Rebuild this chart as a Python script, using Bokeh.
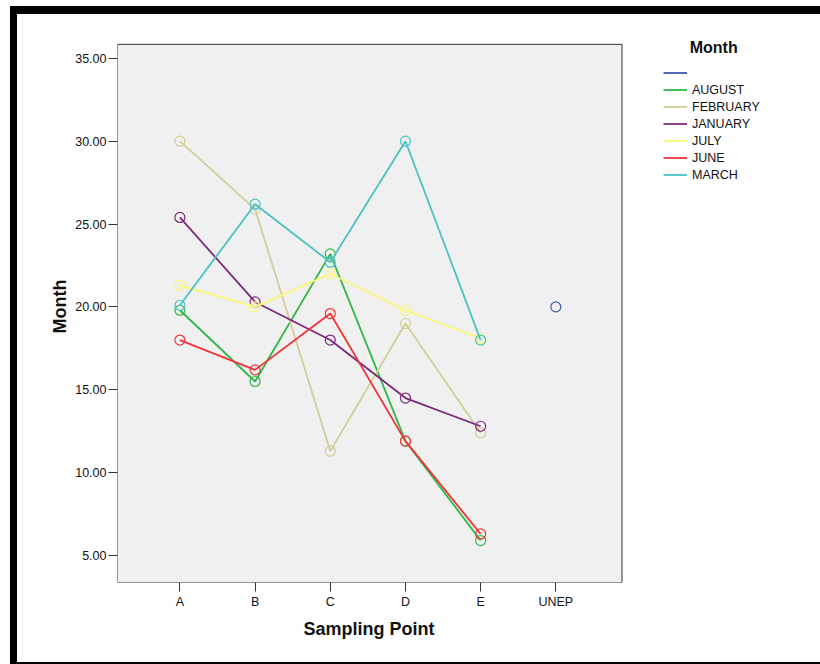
from bokeh.plotting import figure
from bokeh.models import (Legend, LegendItem, FixedTicker, Range1d, Title,
                          BoxAnnotation, ColumnDataSource, InlineStyleSheet)
from bokeh.core.properties import value
from bokeh.embed import file_html
from bokeh.resources import INLINE

# ---- data ----
categories = ["A", "B", "C", "D", "E", "UNEP"]
months = ["", "AUGUST", "FEBRUARY", "JANUARY", "JULY", "JUNE", "MARCH"]
colors = ["#3E58AC", "#2EB848", "#D3CE97", "#7C287D", "#FBF873", "#EF3338", "#48C2C5"]

blank_points = ["UNEP"]
blank_values = [20.0]
site_points = ["A", "B", "C", "D", "E"]
august = [19.8, 15.5, 23.2, 11.9, 5.9]
february = [30.0, 25.9, 11.3, 19.0, 12.4]
january = [25.4, 20.3, 18.0, 14.5, 12.8]
july = [21.3, 20.0, 22.0, 19.8, 18.1]
june = [18.0, 16.2, 19.6, 11.9, 6.3]
march = [20.1, 26.2, 22.7, 30.0, 18.0]
y_ticks = [5, 10, 15, 20, 25, 30, 35]

# extent of the grey chart area (data units)
area_x = (-0.83, 5.88)
area_y = (3.37, 35.845)

series = [
    (blank_points, blank_values),
    (site_points, august),
    (site_points, february),
    (site_points, january),
    (site_points, july),
    (site_points, june),
    (site_points, march),
]

FONT = "Liberation Sans"

frame_css = """
:host { position: relative; }
:host::after {
  content: "";
  position: absolute;
  left: 10px; top: 6px; right: 0px; bottom: 0px;
  border-top: 8px solid #000;
  border-left: 7px solid #000;
  border-bottom: 2px solid #000;
  box-sizing: border-box;
  pointer-events: none;
  z-index: 10;
}
"""

p = figure(width=820, height=664, output_backend="svg", toolbar_location=None,
           min_border_left=117, min_border_right=0, min_border_top=30,
           min_border_bottom=82,
           x_range=Range1d(-0.83, 8.52), y_range=Range1d(3.37, 36.68),
           stylesheets=[InlineStyleSheet(css=frame_css)])
p.background_fill_color = "white"
p.border_fill_color = "white"
p.outline_line_color = None
p.grid.visible = False

p.add_layout(BoxAnnotation(left=area_x[0], right=area_x[1],
                           bottom=area_y[0], top=area_y[1],
                           fill_color="#F0F0F0", fill_alpha=1,
                           line_color="#333333", line_width=1, line_alpha=1,
                           level="underlay"))

items = []
for name, col, (pts, vals) in zip(months, colors, series):
    xs = [categories.index(c) for c in pts]
    src = ColumnDataSource(dict(x=xs, y=vals))
    lr = p.line("x", "y", source=src, line_color=col, line_width=1.8)
    p.scatter("x", "y", source=src, marker="circle", size=10, fill_color=None,
              line_color=col, line_width=1.2)
    items.append(LegendItem(label=value(name if name else " "), renderers=[lr]))

legend = Legend(items=items, location=(546, 399), glyph_width=24, glyph_height=17,
                label_height=17, spacing=0, padding=0, margin=0, label_standoff=5,
                background_fill_alpha=0, border_line_alpha=0,
                title="\u00a0\u00a0\u00a0\u00a0\u00a0\u00a0Month",
                title_text_font=FONT, title_text_font_size="16px",
                title_text_font_style="bold", title_text_color="#111111",
                title_standoff=7,
                label_text_font=FONT, label_text_font_size="12.5px",
                label_text_color="#111111", label_text_baseline="middle")
p.add_layout(legend, "center")

# axes
p.xaxis.ticker = FixedTicker(ticks=list(range(len(categories))))
p.xaxis.major_label_overrides = {i: c for i, c in enumerate(categories)}
p.yaxis.ticker = FixedTicker(ticks=y_ticks)
p.yaxis.major_label_overrides = {t: f"{t:.2f}" for t in y_ticks}
for ax in (p.xaxis[0], p.yaxis[0]):
    ax.minor_tick_line_color = None
    ax.major_tick_in = 0
    ax.major_tick_out = 9
    ax.major_tick_line_color = "#333333"
    ax.axis_line_color = None
    ax.major_label_text_font = FONT
    ax.major_label_text_font_size = "12.5px"
    ax.major_label_text_color = "#111111"
    ax.axis_label_text_font = FONT
    ax.axis_label_text_font_size = "18px"
    ax.axis_label_text_font_style = "bold"
    ax.axis_label_text_color = "#111111"
p.yaxis.axis_label = "Month"
p.xaxis.major_label_standoff = 3
p.yaxis.major_label_standoff = 2
p.yaxis.axis_label_standoff = 2

p.add_layout(Title(text="Sampling Point", align="left", offset=186, standoff=10,
                   text_font=FONT, text_font_size="18px", text_font_style="bold",
                   text_color="#111111"), "below")

open("out.html", "w").write(file_html(p, INLINE))
